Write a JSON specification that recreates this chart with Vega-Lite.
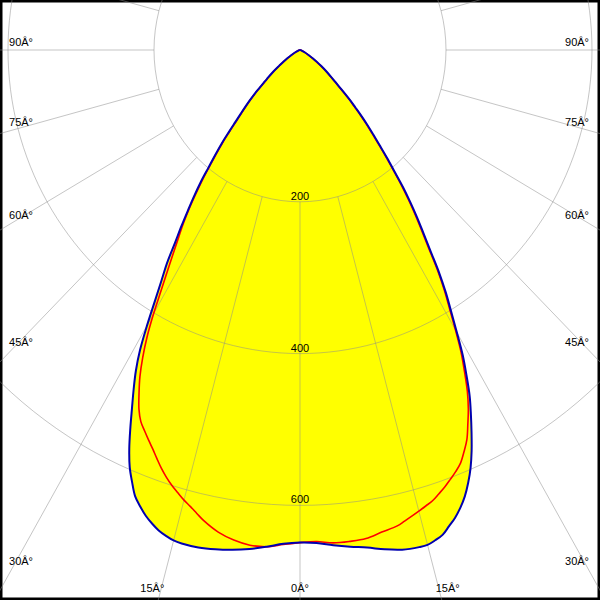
{
  "$schema": "https://vega.github.io/schema/vega-lite/v6.json",
  "width": 600,
  "height": 600,
  "autosize": {"type": "none"},
  "padding": 0,
  "background": "white",
  "config": {"view": {"stroke": "black", "strokeWidth": 5, "fill": "white"}},
  "datasets": {
    "curves": [
      {"c":"C0-C180","g":-90,"I":0},{"c":"C0-C180","g":-80,"I":1},{"c":"C0-C180","g":-70,"I":3},{"c":"C0-C180","g":-65,"I":7},{"c":"C0-C180","g":-60,"I":15},{"c":"C0-C180","g":-58,"I":20},{"c":"C0-C180","g":-56,"I":27},{"c":"C0-C180","g":-54,"I":35},{"c":"C0-C180","g":-52,"I":47},{"c":"C0-C180","g":-50,"I":59},{"c":"C0-C180","g":-49,"I":66},{"c":"C0-C180","g":-48,"I":75},{"c":"C0-C180","g":-47,"I":86},{"c":"C0-C180","g":-46,"I":96},{"c":"C0-C180","g":-45,"I":106},{"c":"C0-C180","g":-44,"I":117},{"c":"C0-C180","g":-43,"I":130},{"c":"C0-C180","g":-42,"I":146},{"c":"C0-C180","g":-41,"I":164},{"c":"C0-C180","g":-40,"I":181},{"c":"C0-C180","g":-39,"I":199},{"c":"C0-C180","g":-38,"I":221},{"c":"C0-C180","g":-37,"I":241},{"c":"C0-C180","g":-36,"I":261},{"c":"C0-C180","g":-35,"I":283},{"c":"C0-C180","g":-34,"I":306},{"c":"C0-C180","g":-33,"I":334},{"c":"C0-C180","g":-32,"I":358},{"c":"C0-C180","g":-31,"I":386},{"c":"C0-C180","g":-30,"I":419},{"c":"C0-C180","g":-29,"I":452},{"c":"C0-C180","g":-28,"I":479},{"c":"C0-C180","g":-27,"I":502},{"c":"C0-C180","g":-26,"I":525},{"c":"C0-C180","g":-25,"I":550},{"c":"C0-C180","g":-24,"I":575},{"c":"C0-C180","g":-23,"I":597},{"c":"C0-C180","g":-22,"I":614},{"c":"C0-C180","g":-21,"I":630},{"c":"C0-C180","g":-20,"I":640},{"c":"C0-C180","g":-19,"I":649},{"c":"C0-C180","g":-18,"I":656},{"c":"C0-C180","g":-17,"I":662},{"c":"C0-C180","g":-16,"I":666},{"c":"C0-C180","g":-15,"I":669},{"c":"C0-C180","g":-14,"I":670},{"c":"C0-C180","g":-12,"I":670},{"c":"C0-C180","g":-10,"I":668},{"c":"C0-C180","g":-8,"I":665},{"c":"C0-C180","g":-6,"I":661},{"c":"C0-C180","g":-4,"I":656},{"c":"C0-C180","g":-2,"I":651},{"c":"C0-C180","g":0,"I":649},{"c":"C0-C180","g":2,"I":650},{"c":"C0-C180","g":4,"I":654},{"c":"C0-C180","g":6,"I":658},{"c":"C0-C180","g":8,"I":662},{"c":"C0-C180","g":10,"I":668},{"c":"C0-C180","g":12,"I":673},{"c":"C0-C180","g":14,"I":675},{"c":"C0-C180","g":15,"I":675},{"c":"C0-C180","g":16,"I":672},{"c":"C0-C180","g":17,"I":668},{"c":"C0-C180","g":18,"I":660},{"c":"C0-C180","g":19,"I":652},{"c":"C0-C180","g":20,"I":642},{"c":"C0-C180","g":21,"I":630},{"c":"C0-C180","g":22,"I":615},{"c":"C0-C180","g":23,"I":598},{"c":"C0-C180","g":24,"I":578},{"c":"C0-C180","g":25,"I":556},{"c":"C0-C180","g":26,"I":534},{"c":"C0-C180","g":27,"I":512},{"c":"C0-C180","g":28,"I":486},{"c":"C0-C180","g":29,"I":460},{"c":"C0-C180","g":30,"I":430},{"c":"C0-C180","g":31,"I":402},{"c":"C0-C180","g":32,"I":377},{"c":"C0-C180","g":33,"I":350},{"c":"C0-C180","g":34,"I":320},{"c":"C0-C180","g":35,"I":295},{"c":"C0-C180","g":36,"I":273},{"c":"C0-C180","g":37,"I":251},{"c":"C0-C180","g":38,"I":229},{"c":"C0-C180","g":39,"I":205},{"c":"C0-C180","g":40,"I":185},{"c":"C0-C180","g":41,"I":166},{"c":"C0-C180","g":42,"I":150},{"c":"C0-C180","g":43,"I":136},{"c":"C0-C180","g":44,"I":122},{"c":"C0-C180","g":45,"I":108},{"c":"C0-C180","g":46,"I":96},{"c":"C0-C180","g":47,"I":83},{"c":"C0-C180","g":48,"I":72},{"c":"C0-C180","g":49,"I":64},{"c":"C0-C180","g":50,"I":57},{"c":"C0-C180","g":52,"I":46},{"c":"C0-C180","g":54,"I":36},{"c":"C0-C180","g":56,"I":28},{"c":"C0-C180","g":58,"I":21},{"c":"C0-C180","g":60,"I":15},{"c":"C0-C180","g":65,"I":7},{"c":"C0-C180","g":70,"I":3},{"c":"C0-C180","g":80,"I":1},{"c":"C0-C180","g":90,"I":0},
      {"c":"C90-C270","g":-90,"I":0},{"c":"C90-C270","g":-80,"I":1},{"c":"C90-C270","g":-70,"I":3},{"c":"C90-C270","g":-65,"I":6},{"c":"C90-C270","g":-60,"I":14},{"c":"C90-C270","g":-58,"I":19},{"c":"C90-C270","g":-56,"I":26},{"c":"C90-C270","g":-54,"I":34},{"c":"C90-C270","g":-52,"I":45},{"c":"C90-C270","g":-50,"I":57},{"c":"C90-C270","g":-49,"I":64},{"c":"C90-C270","g":-48,"I":73},{"c":"C90-C270","g":-47,"I":84},{"c":"C90-C270","g":-46,"I":94},{"c":"C90-C270","g":-45,"I":104},{"c":"C90-C270","g":-44,"I":115},{"c":"C90-C270","g":-43,"I":127},{"c":"C90-C270","g":-42,"I":143},{"c":"C90-C270","g":-41,"I":161},{"c":"C90-C270","g":-40,"I":178},{"c":"C90-C270","g":-39,"I":196},{"c":"C90-C270","g":-38,"I":217},{"c":"C90-C270","g":-37,"I":237},{"c":"C90-C270","g":-36,"I":258},{"c":"C90-C270","g":-35,"I":278},{"c":"C90-C270","g":-34,"I":297},{"c":"C90-C270","g":-33,"I":318},{"c":"C90-C270","g":-32,"I":342},{"c":"C90-C270","g":-31,"I":369},{"c":"C90-C270","g":-30,"I":401},{"c":"C90-C270","g":-29,"I":432},{"c":"C90-C270","g":-28,"I":459},{"c":"C90-C270","g":-27,"I":483},{"c":"C90-C270","g":-26,"I":503},{"c":"C90-C270","g":-25,"I":522},{"c":"C90-C270","g":-24,"I":536},{"c":"C90-C270","g":-23,"I":545},{"c":"C90-C270","g":-22,"I":554},{"c":"C90-C270","g":-21,"I":563},{"c":"C90-C270","g":-20,"I":573},{"c":"C90-C270","g":-19,"I":583},{"c":"C90-C270","g":-18,"I":592},{"c":"C90-C270","g":-17,"I":600},{"c":"C90-C270","g":-16,"I":607},{"c":"C90-C270","g":-15,"I":614},{"c":"C90-C270","g":-14,"I":620},{"c":"C90-C270","g":-13,"I":627},{"c":"C90-C270","g":-12,"I":634},{"c":"C90-C270","g":-10,"I":645},{"c":"C90-C270","g":-8,"I":652},{"c":"C90-C270","g":-6,"I":656},{"c":"C90-C270","g":-4,"I":656},{"c":"C90-C270","g":-2,"I":652},{"c":"C90-C270","g":0,"I":649},{"c":"C90-C270","g":2,"I":648},{"c":"C90-C270","g":4,"I":651},{"c":"C90-C270","g":6,"I":651},{"c":"C90-C270","g":8,"I":650},{"c":"C90-C270","g":10,"I":645},{"c":"C90-C270","g":12,"I":641},{"c":"C90-C270","g":13,"I":637},{"c":"C90-C270","g":14,"I":633},{"c":"C90-C270","g":15,"I":629},{"c":"C90-C270","g":16,"I":625},{"c":"C90-C270","g":17,"I":621},{"c":"C90-C270","g":18,"I":615},{"c":"C90-C270","g":19,"I":609},{"c":"C90-C270","g":20,"I":602},{"c":"C90-C270","g":21,"I":595},{"c":"C90-C270","g":22,"I":587},{"c":"C90-C270","g":23,"I":575},{"c":"C90-C270","g":24,"I":562},{"c":"C90-C270","g":25,"I":544},{"c":"C90-C270","g":26,"I":526},{"c":"C90-C270","g":27,"I":505},{"c":"C90-C270","g":28,"I":480},{"c":"C90-C270","g":29,"I":455},{"c":"C90-C270","g":30,"I":426},{"c":"C90-C270","g":31,"I":398},{"c":"C90-C270","g":32,"I":373},{"c":"C90-C270","g":33,"I":346},{"c":"C90-C270","g":34,"I":316},{"c":"C90-C270","g":35,"I":291},{"c":"C90-C270","g":36,"I":269},{"c":"C90-C270","g":37,"I":247},{"c":"C90-C270","g":38,"I":225},{"c":"C90-C270","g":39,"I":202},{"c":"C90-C270","g":40,"I":182},{"c":"C90-C270","g":41,"I":163},{"c":"C90-C270","g":42,"I":147},{"c":"C90-C270","g":43,"I":133},{"c":"C90-C270","g":44,"I":119},{"c":"C90-C270","g":45,"I":105},{"c":"C90-C270","g":46,"I":94},{"c":"C90-C270","g":47,"I":81},{"c":"C90-C270","g":48,"I":70},{"c":"C90-C270","g":49,"I":62},{"c":"C90-C270","g":50,"I":55},{"c":"C90-C270","g":52,"I":44},{"c":"C90-C270","g":54,"I":34},{"c":"C90-C270","g":56,"I":26},{"c":"C90-C270","g":58,"I":19},{"c":"C90-C270","g":60,"I":14},{"c":"C90-C270","g":65,"I":6},{"c":"C90-C270","g":70,"I":3},{"c":"C90-C270","g":80,"I":1},{"c":"C90-C270","g":90,"I":0}
    ],
    "rings": [
      {"ring": 200, "a": [0,15,30,45,60,75,90,105,120,135,150,165,180,195,210,225,240,255,270,285,300,315,330,345]},
      {"ring": 400, "a": [0,15,30,45,60,75,90,105,120,135,150,165,180,195,210,225,240,255,270,285,300,315,330,345]},
      {"ring": 600, "a": [0,15,30,45,60,75,90,105,120,135,150,165,180,195,210,225,240,255,270,285,300,315,330,345]}
    ],
    "spokes": [
      {"a":0},{"a":15},{"a":30},{"a":45},{"a":60},{"a":75},{"a":90},{"a":105},{"a":120},{"a":135},{"a":150},{"a":165},{"a":180},{"a":195},{"a":210},{"a":225},{"a":240},{"a":255},{"a":270},{"a":285},{"a":300},{"a":315},{"a":330},{"a":345}
    ],
    "ringLabels": [{"v": 200}, {"v": 400}, {"v": 600}],
    "sideLabels": [
      {"t":"90Â°","a":90,"s":-1},{"t":"75Â°","a":75,"s":-1},{"t":"60Â°","a":60,"s":-1},{"t":"45Â°","a":45,"s":-1},{"t":"30Â°","a":30,"s":-1},
      {"t":"90Â°","a":90,"s":1},{"t":"75Â°","a":75,"s":1},{"t":"60Â°","a":60,"s":1},{"t":"45Â°","a":45,"s":1},{"t":"30Â°","a":30,"s":1}
    ],
    "bottomLabels": [{"t":"15Â°","a":-15},{"t":"0Â°","a":0},{"t":"15Â°","a":15}]
  },
  "layer": [
    {
      "data": {"name": "curves"},
      "transform": [
        {"filter": "datum.c === 'C0-C180'"},
        {"calculate": "datum.I * sin(datum.g * PI / 180)", "as": "x"},
        {"calculate": "datum.I * cos(datum.g * PI / 180)", "as": "y"}
      ],
      "mark": {"type": "line", "fill": "#ffff00", "stroke": "transparent", "strokeWidth": 0, "interpolate": "catmull-rom", "clip": true},
      "encoding": {
        "x": {"field": "x", "type": "quantitative", "scale": {"domain": [-410.96, 410.96], "nice": false, "zero": false}, "axis": null},
        "y": {"field": "y", "type": "quantitative", "scale": {"domain": [-65.88, 724.64], "nice": false, "zero": false, "reverse": true}, "axis": null},
        "order": {"field": "g", "type": "quantitative"}
      }
    },
    {
      "data": {"name": "rings"},
      "transform": [
        {"flatten": ["a"]},
        {"calculate": "datum.ring * sin(datum.a * PI / 180)", "as": "x"},
        {"calculate": "datum.ring * cos(datum.a * PI / 180)", "as": "y"}
      ],
      "mark": {"type": "line", "stroke": "#8c8c8c", "strokeOpacity": 0.5, "strokeWidth": 1, "interpolate": "cardinal-closed", "clip": true},
      "encoding": {
        "x": {"field": "x", "type": "quantitative", "scale": {"domain": [-410.96, 410.96], "nice": false, "zero": false}, "axis": null},
        "y": {"field": "y", "type": "quantitative", "scale": {"domain": [-65.88, 724.64], "nice": false, "zero": false, "reverse": true}, "axis": null},
        "detail": {"field": "ring", "type": "nominal"},
        "order": {"field": "a", "type": "quantitative"}
      }
    },
    {
      "data": {"name": "spokes"},
      "transform": [
        {"calculate": "200 * sin(datum.a * PI / 180)", "as": "x1"},
        {"calculate": "200 * cos(datum.a * PI / 180)", "as": "y1"},
        {"calculate": "1400 * sin(datum.a * PI / 180)", "as": "x2"},
        {"calculate": "1400 * cos(datum.a * PI / 180)", "as": "y2"}
      ],
      "mark": {"type": "rule", "stroke": "#8c8c8c", "strokeOpacity": 0.5, "strokeWidth": 1, "clip": true},
      "encoding": {
        "x": {"field": "x1", "type": "quantitative", "scale": {"domain": [-410.96, 410.96], "nice": false, "zero": false}, "axis": null},
        "y": {"field": "y1", "type": "quantitative", "scale": {"domain": [-65.88, 724.64], "nice": false, "zero": false, "reverse": true}, "axis": null},
        "x2": {"field": "x2"},
        "y2": {"field": "y2"}
      }
    },
    {
      "data": {"name": "curves"},
      "transform": [
        {"filter": "datum.c === 'C90-C270'"},
        {"calculate": "datum.I * sin(datum.g * PI / 180)", "as": "x"},
        {"calculate": "datum.I * cos(datum.g * PI / 180)", "as": "y"}
      ],
      "mark": {"type": "line", "stroke": "#ff0000", "strokeWidth": 1.6, "interpolate": "catmull-rom", "clip": true},
      "encoding": {
        "x": {"field": "x", "type": "quantitative", "scale": {"domain": [-410.96, 410.96], "nice": false, "zero": false}, "axis": null},
        "y": {"field": "y", "type": "quantitative", "scale": {"domain": [-65.88, 724.64], "nice": false, "zero": false, "reverse": true}, "axis": null},
        "order": {"field": "g", "type": "quantitative"}
      }
    },
    {
      "data": {"name": "curves"},
      "transform": [
        {"filter": "datum.c === 'C0-C180'"},
        {"calculate": "datum.I * sin(datum.g * PI / 180)", "as": "x"},
        {"calculate": "datum.I * cos(datum.g * PI / 180)", "as": "y"}
      ],
      "mark": {"type": "line", "stroke": "#0000b0", "strokeWidth": 2, "interpolate": "catmull-rom", "clip": true},
      "encoding": {
        "x": {"field": "x", "type": "quantitative", "scale": {"domain": [-410.96, 410.96], "nice": false, "zero": false}, "axis": null},
        "y": {"field": "y", "type": "quantitative", "scale": {"domain": [-65.88, 724.64], "nice": false, "zero": false, "reverse": true}, "axis": null},
        "order": {"field": "g", "type": "quantitative"}
      }
    },
    {
      "data": {"name": "ringLabels"},
      "mark": {"type": "text", "font": "Liberation Sans", "fontSize": 11, "color": "black", "align": "center", "baseline": "alphabetic", "dy": -2},
      "encoding": {
        "x": {"datum": 0, "type": "quantitative", "scale": {"domain": [-410.96, 410.96], "nice": false, "zero": false}, "axis": null},
        "y": {"field": "v", "type": "quantitative", "scale": {"domain": [-65.88, 724.64], "nice": false, "zero": false, "reverse": true}, "axis": null},
        "text": {"field": "v", "type": "quantitative"}
      }
    },
    {
      "data": {"name": "sideLabels"},
      "transform": [
        {"filter": "datum.s < 0"},
        {"calculate": "-398.6", "as": "x"},
        {"calculate": "395 * cos(datum.a * PI / 180) / sin(datum.a * PI / 180)", "as": "y"}
      ],
      "mark": {"type": "text", "font": "Liberation Sans", "fontSize": 11, "color": "black", "align": "left", "baseline": "alphabetic", "dy": -4},
      "encoding": {
        "x": {"field": "x", "type": "quantitative", "scale": {"domain": [-410.96, 410.96], "nice": false, "zero": false}, "axis": null},
        "y": {"field": "y", "type": "quantitative", "scale": {"domain": [-65.88, 724.64], "nice": false, "zero": false, "reverse": true}, "axis": null},
        "text": {"field": "t", "type": "nominal"}
      }
    },
    {
      "data": {"name": "sideLabels"},
      "transform": [
        {"filter": "datum.s > 0"},
        {"calculate": "395.9", "as": "x"},
        {"calculate": "395 * cos(datum.a * PI / 180) / sin(datum.a * PI / 180)", "as": "y"}
      ],
      "mark": {"type": "text", "font": "Liberation Sans", "fontSize": 11, "color": "black", "align": "right", "baseline": "alphabetic", "dy": -4},
      "encoding": {
        "x": {"field": "x", "type": "quantitative", "scale": {"domain": [-410.96, 410.96], "nice": false, "zero": false}, "axis": null},
        "y": {"field": "y", "type": "quantitative", "scale": {"domain": [-65.88, 724.64], "nice": false, "zero": false, "reverse": true}, "axis": null},
        "text": {"field": "t", "type": "nominal"}
      }
    },
    {
      "data": {"name": "bottomLabels"},
      "transform": [
        {"calculate": "714 * tan(datum.a * PI / 180) + (datum.a < 0 ? -11 : (datum.a > 0 ? 11 : 0))", "as": "x"},
        {"calculate": "714", "as": "y"}
      ],
      "mark": {"type": "text", "font": "Liberation Sans", "fontSize": 11, "color": "black", "align": "center", "baseline": "alphabetic"},
      "encoding": {
        "x": {"field": "x", "type": "quantitative", "scale": {"domain": [-410.96, 410.96], "nice": false, "zero": false}, "axis": null},
        "y": {"field": "y", "type": "quantitative", "scale": {"domain": [-65.88, 724.64], "nice": false, "zero": false, "reverse": true}, "axis": null},
        "text": {"field": "t", "type": "nominal"}
      }
    }
  ]
}
